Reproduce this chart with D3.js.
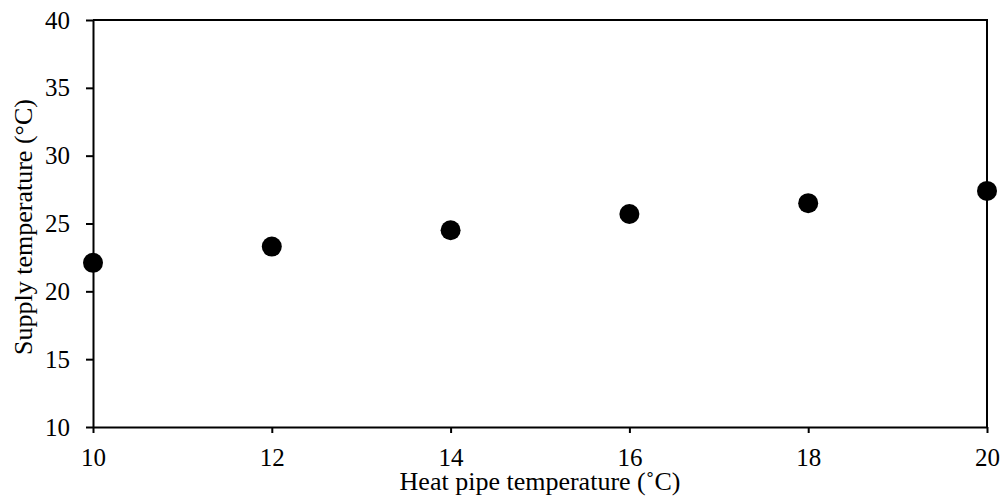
<!DOCTYPE html>
<html>
<head>
<meta charset="utf-8">
<script src="https://cdn.jsdelivr.net/npm/d3@7"></script>
<style>
    body { margin: 0; background: #fff; }
    text { font-family: "Liberation Serif", "Times New Roman", serif; fill: #000; }
</style>
</head>
<body>
<div id="chart"></div>
<script>
    // heat pipe temperature (°C) vs supply temperature (°C)
    const heatPipeTemp = [10, 12, 14, 16, 18, 20];
    const supplyTemp = [22.1, 23.3, 24.5, 25.7, 26.5, 27.4];
    const xTicks = [10, 12, 14, 16, 18, 20];
    const yTicks = [10, 15, 20, 25, 30, 35, 40];

    const width = 1007, height = 504;
    const margin = {top: 20, right: 20, bottom: 77, left: 93};

    const svg = d3.select("#chart").append("svg").attr("width", width).attr("height", height);

    const x = d3.scaleLinear().domain([10, 20]).range([margin.left, 987]);
    const y = d3.scaleLinear().domain([10, 40]).range([427, margin.top]);

    // frame (top and right edges)
    svg.append("path")
        .attr("d", `M${x(10)},${y(40)}H${x(20)}V${y(10)}`)
        .attr("fill", "none").attr("stroke", "#000").attr("stroke-width", 2);

    const xAxis = svg.append("g").attr("transform", `translate(0,${y(10)})`)
        .call(d3.axisBottom(x).tickValues(xTicks).tickSize(6).tickPadding(15).tickSizeOuter(0));
    const yAxis = svg.append("g").attr("transform", `translate(${x(10)},0)`)
        .call(d3.axisLeft(y).tickValues(yTicks).tickSize(7).tickPadding(16).tickSizeOuter(0));

    [xAxis, yAxis].forEach(g => {
        g.attr("font-size", 25).attr("font-family", "Liberation Serif");
        g.select(".domain").attr("stroke", "#000").attr("stroke-width", 2);
        g.selectAll(".tick line").attr("stroke", "#000").attr("stroke-width", 2);
        g.selectAll(".tick text").attr("fill", "#000");
    });

    svg.selectAll(".dot").data(heatPipeTemp).enter().append("circle")
        .attr("class", "dot")
        .attr("cx", d => x(d))
        .attr("cy", (d, i) => y(supplyTemp[i]))
        .attr("r", 10)
        .attr("fill", "#000");

    svg.append("text")
        .attr("x", 540).attr("y", 490)
        .attr("text-anchor", "middle").attr("font-size", 26)
        .text("Heat pipe temperature (˚C)");

    svg.append("text")
        .attr("transform", `translate(32,227) rotate(-90)`)
        .attr("text-anchor", "middle").attr("font-size", 26)
        .text("Supply temperature (°C)");
</script>
</body>
</html>
